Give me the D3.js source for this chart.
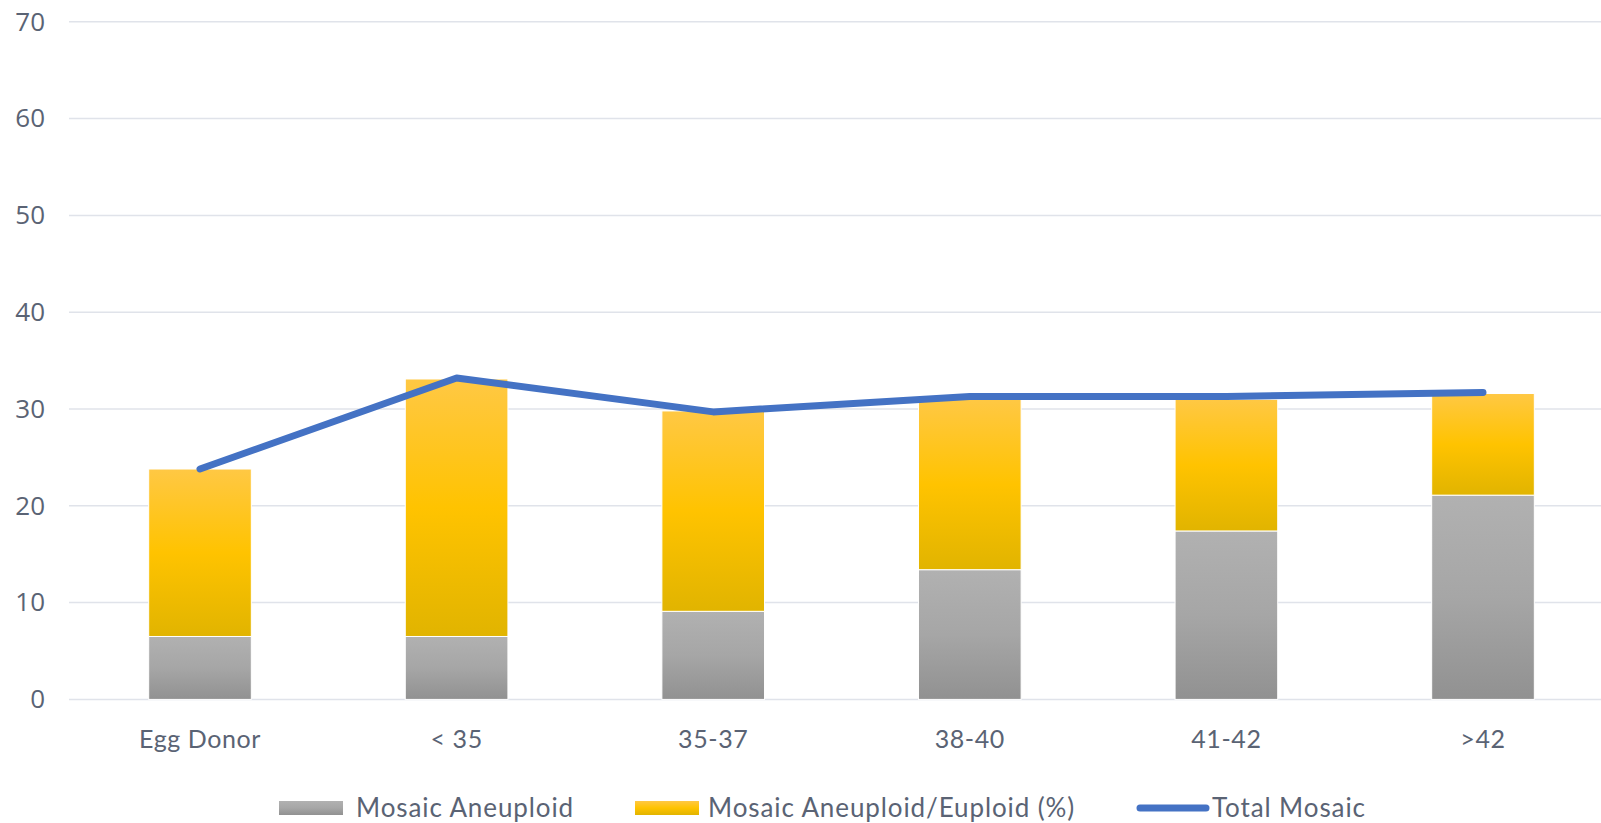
<!DOCTYPE html>
<html>
<head>
<meta charset="utf-8">
<script src="https://cdn.jsdelivr.net/npm/d3@7"></script>
<style>
  html, body { margin: 0; padding: 0; background: #fff; }
  svg { display: block; }
</style>
</head>
<body>
<svg id="chart" width="1601" height="823"></svg>
<script>
// Age groups along the x axis
const categories = ["Egg Donor", "< 35", "35-37", "38-40", "41-42", ">42"];
// Stacked bar segments (%)
const mosaicAneuploid = [6.5, 6.5, 9.1, 13.4, 17.4, 21.1];
const mosaicAneuploidEuploid = [17.3, 26.6, 20.7, 17.6, 13.6, 10.5];
// Line series (%)
const totalMosaic = [23.8, 33.2, 29.7, 31.3, 31.3, 31.7];
// Y axis ticks
const yTicks = [0, 10, 20, 30, 40, 50, 60, 70];

const svg = d3.select("#chart");
const W = 1601, H = 823;

const x = d3.scaleBand()
  .domain(categories)
  .range([71.7, 1611.3])
  .paddingInner(0.6)
  .paddingOuter(0.3);

const y = d3.scaleLinear()
  .domain([0, 70])
  .range([699.4, 21.8]);

const textColor = "#5a6374";

// Gradients for bar fills
const defs = svg.append("defs");
function gradient(id, stops) {
  const g = defs.append("linearGradient")
    .attr("id", id).attr("x1", 0).attr("y1", 0).attr("x2", 0).attr("y2", 1);
  stops.forEach(([o, c]) => g.append("stop").attr("offset", o).attr("stop-color", c));
}
gradient("gGray", [[0, "#b1b1b1"], [0.5, "#a6a6a6"], [1, "#919191"]]);
gradient("gGold", [[0, "#ffc844"], [0.5, "#ffc300"], [1, "#e1b400"]]);

// Horizontal gridlines
svg.append("g")
  .selectAll("line")
  .data(yTicks)
  .join("line")
  .attr("x1", 69).attr("x2", W)
  .attr("y1", d => y(d)).attr("y2", d => y(d))
  .attr("stroke", "#e0e3ea")
  .attr("stroke-width", 1.5);

// Y axis labels
const yAxis = d3.axisLeft(y).tickValues(yTicks).tickSize(0).tickPadding(0);
svg.append("g")
  .attr("transform", "translate(45,0)")
  .call(yAxis)
  .call(g => g.select(".domain").remove())
  .selectAll("text")
  .attr("fill", textColor)
  .attr("font-family", "'Open Sans', sans-serif")
  .attr("font-size", 26);

// Stacked bars
const stackData = categories.map((c, i) => ({
  cat: c, a: mosaicAneuploid[i], b: mosaicAneuploidEuploid[i]
}));
const stack = d3.stack().keys(["a", "b"])(stackData);
const fills = { a: "url(#gGray)", b: "url(#gGold)" };

svg.append("g")
  .selectAll("g")
  .data(stack)
  .join("g")
  .attr("fill", d => fills[d.key])
  .selectAll("rect")
  .data(d => d)
  .join("rect")
  .attr("x", d => x(d.data.cat))
  .attr("width", x.bandwidth())
  .attr("y", d => y(d[1]))
  .attr("height", d => y(d[0]) - y(d[1]))
  .attr("stroke", "#ffffff")
  .attr("stroke-width", 1);

// Total Mosaic line
const line = d3.line()
  .x((d, i) => x(categories[i]) + x.bandwidth() / 2)
  .y(d => y(d));

svg.append("path")
  .datum(totalMosaic)
  .attr("d", line)
  .attr("fill", "none")
  .attr("stroke", "#4472c4")
  .attr("stroke-width", 7)
  .attr("stroke-linecap", "round")
  .attr("stroke-linejoin", "round");

// X axis labels
const xAxis = d3.axisBottom(x).tickSize(0).tickPadding(0);
svg.append("g")
  .attr("transform", "translate(0,748)")
  .call(xAxis)
  .call(g => g.select(".domain").remove())
  .selectAll("text")
  .attr("dy", 0)
  .attr("fill", textColor)
  .attr("font-family", "Lato, sans-serif")
  .attr("font-size", 25)
  .attr("letter-spacing", 0.6);

// Legend
const legend = svg.append("g").attr("transform", "translate(0,808)");
const legendItems = [
  { label: "Mosaic Aneuploid", type: "rect", fill: "url(#gGray)", x0: 279, tx: 356 },
  { label: "Mosaic Aneuploid/Euploid (%)", type: "rect", fill: "url(#gGold)", x0: 635, tx: 708 },
  { label: "Total Mosaic", type: "line", x0: 1140, tx: 1212 }
];
legendItems.forEach(it => {
  if (it.type === "rect") {
    legend.append("rect")
      .attr("x", it.x0).attr("y", -7)
      .attr("width", 64).attr("height", 14)
      .attr("fill", it.fill);
  } else {
    legend.append("line")
      .attr("x1", it.x0).attr("x2", it.x0 + 66)
      .attr("y1", 0).attr("y2", 0)
      .attr("stroke", "#4472c4")
      .attr("stroke-width", 7)
      .attr("stroke-linecap", "round");
  }
  legend.append("text")
    .attr("x", it.tx).attr("y", 0)
    .attr("dy", "0.35em")
    .attr("fill", textColor)
    .attr("font-family", "Lato, sans-serif")
    .attr("font-size", 26)
    .attr("letter-spacing", 0.9)
    .text(it.label);
});
</script>
</body>
</html>
